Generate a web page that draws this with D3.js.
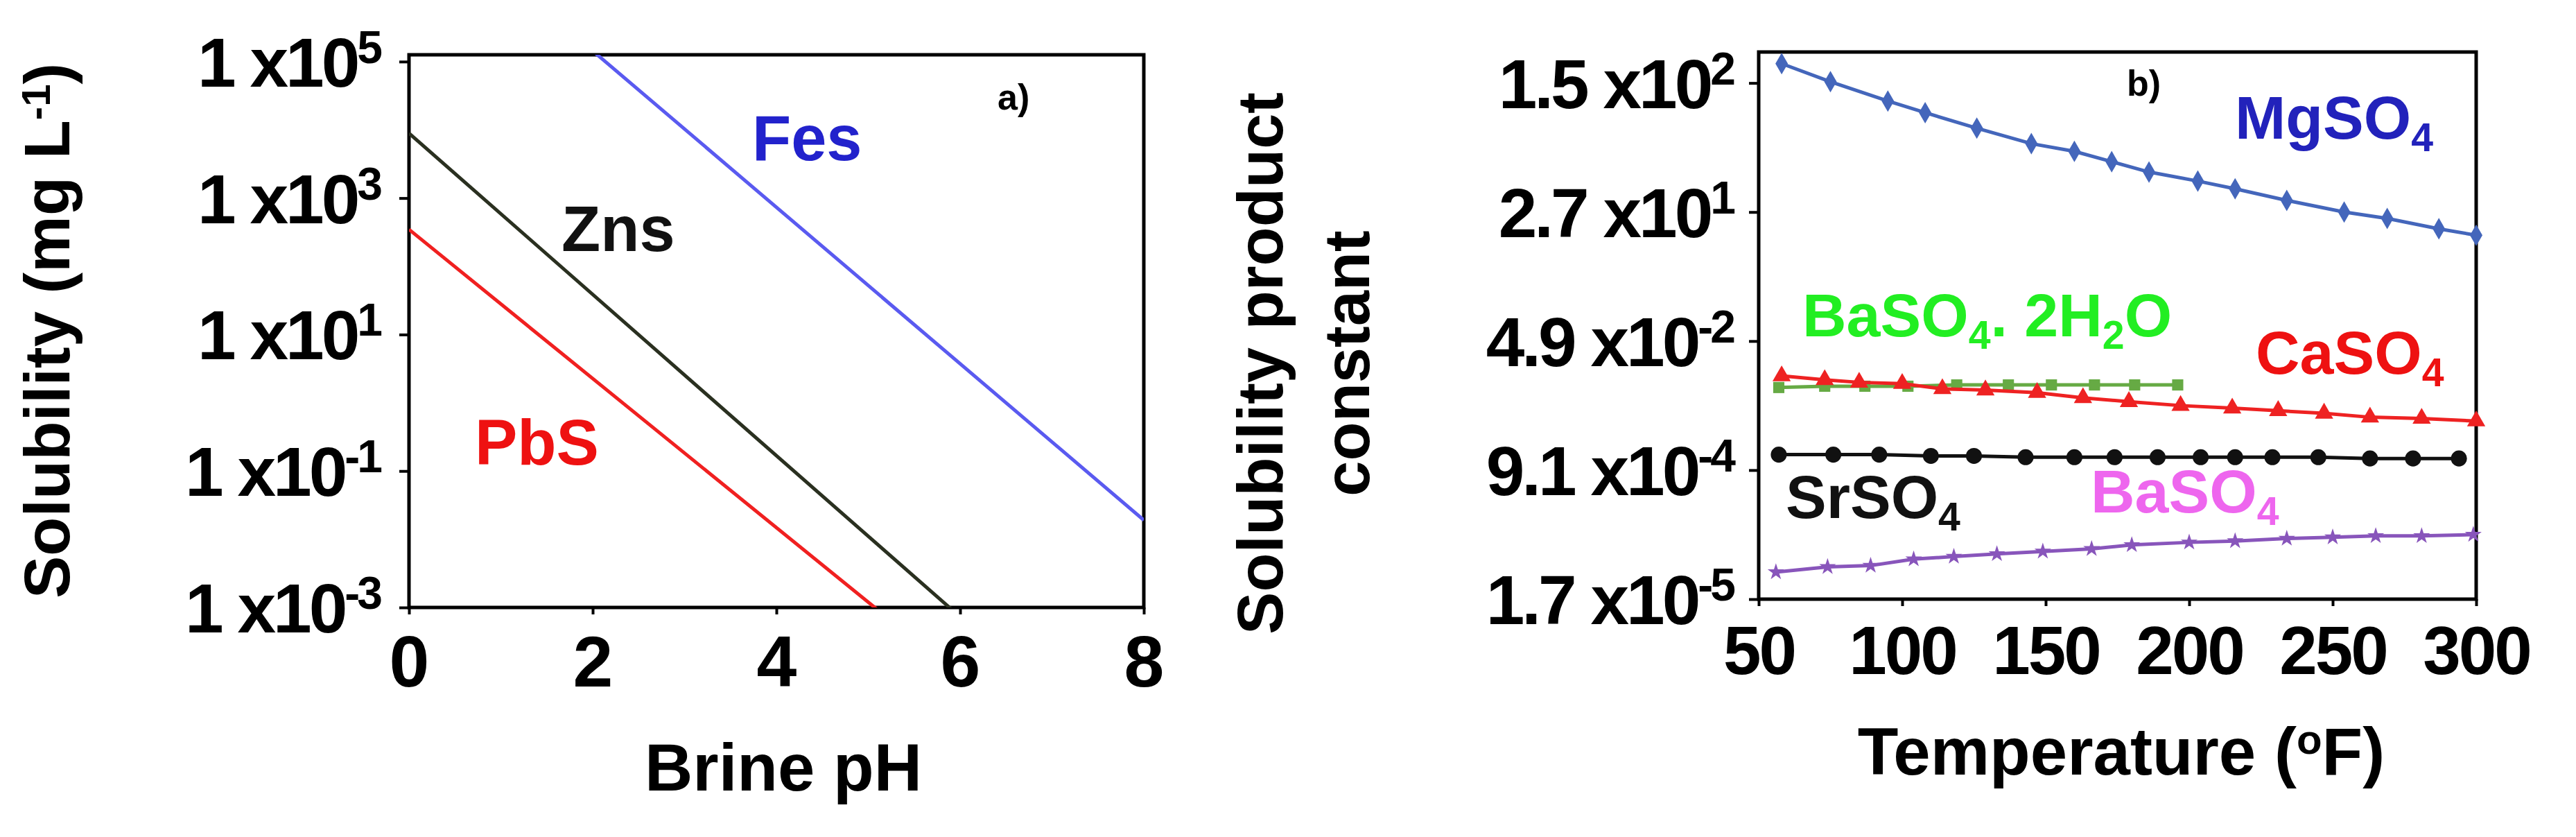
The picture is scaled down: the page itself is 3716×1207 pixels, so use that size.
<!DOCTYPE html>
<html><head><meta charset="utf-8">
<script src="https://cdn.jsdelivr.net/npm/d3@7"></script>
<style>
body{margin:0;background:#fff}
text{font-family:"Liberation Sans Narrow","Liberation Sans",Arial,sans-serif;font-weight:bold}
</style></head><body>
<script>
// panel a: straight lines, log10 solubility at pH endpoints
var phEnds = [0, 8];
var fesLog = [7.45, -1.72];
var znsLog = [3.95, -5.5];
var pbsLog = [2.54, -6.2];
var aTicks = [5, 3, 1, -1, -3];

// panel b: temperature (F) and position on the tick-index axis (0 = 1.7e-5 ... 4 = 1.5e2)
var bTickLabels = [["1.7","-5"],["9.1","-4"],["4.9","-2"],["2.7","1"],["1.5","2"]];
var mgT = [58,75,95,108,126,145,160,173,186,203,216,234,254,269,287,300];
var mgY = [4.15,4.01,3.86,3.77,3.65,3.53,3.47,3.39,3.31,3.24,3.18,3.09,3.0,2.95,2.87,2.82];
var caT = [58,73,85,100,114,129,147,163,179,197,215,231,247,263,281,300];
var caY = [1.73,1.70,1.68,1.67,1.63,1.62,1.60,1.56,1.53,1.50,1.48,1.46,1.44,1.41,1.40,1.38];
var bhT = [57,73,87,102,119,137,152,167,181,196];
var bhY = [1.64,1.65,1.65,1.65,1.66,1.66,1.66,1.66,1.66,1.66];
var srT = [57,76,92,110,125,143,160,174,189,204,216,229,245,263,278,294];
var srY = [1.12,1.12,1.12,1.11,1.11,1.10,1.10,1.10,1.10,1.10,1.10,1.10,1.10,1.09,1.09,1.09];
var baT = [56,74,89,104,118,133,149,166,180,200,216,234,250,265,281,299];
var baY = [0.21,0.25,0.26,0.31,0.33,0.35,0.37,0.39,0.42,0.44,0.45,0.47,0.48,0.49,0.49,0.50];

var svg = d3.select("body").append("svg").attr("width",3716).attr("height",1207);

// ---------- panel a
var xa = d3.scaleLinear().domain([0,8]).range([590,1650]);
var ya = d3.scaleLinear().domain([-3,5.1]).range([876,79]);
var ga = svg.append("g");
ga.append("clipPath").attr("id","ca").append("rect")
  .attr("x",590).attr("y",79).attr("width",1060).attr("height",797);
ga.append("rect").attr("x",590).attr("y",79).attr("width",1060).attr("height",797)
  .attr("fill","none").attr("stroke","#000").attr("stroke-width",5);
var la = d3.line().x(function(d){return xa(d[0]);}).y(function(d){return ya(d[1]);});
[[fesLog,"#5a5af0"],[znsLog,"#2a3020"],[pbsLog,"#f02020"]].forEach(function(s){
  ga.append("path").attr("clip-path","url(#ca)")
    .attr("d", la(phEnds.map(function(p,i){return [p,s[0][i]];})))
    .attr("fill","none").attr("stroke",s[1]).attr("stroke-width",5);
});
ga.append("g").attr("transform","translate(0,876)")
  .call(d3.axisBottom(xa).tickValues([0,2,4,6,8]).tickSize(10).tickPadding(30).tickFormat(d3.format("d")))
  .call(function(g){g.select(".domain").remove();g.selectAll("line").attr("stroke-width",4);
    g.selectAll("text").attr("font-size",104).attr("fill","#000");});
ga.append("g").attr("transform","translate(590,0)")
  .call(d3.axisLeft(ya).tickValues(aTicks).tickSize(14).tickFormat(""))
  .call(function(g){g.select(".domain").remove();g.selectAll("line").attr("stroke-width",4);});
aTicks.forEach(function(t){
  var tx = ga.append("text").attr("x",548).attr("y",ya(t)+36).attr("text-anchor","end")
    .attr("font-size",100).attr("letter-spacing",-4);
  tx.append("tspan").text("1 x10");
  tx.append("tspan").attr("dy",-34).attr("font-size",66).text(t);
});
var ta = ga.append("text").attr("transform","translate(100,477) rotate(-90)").attr("text-anchor","middle")
  .attr("font-size",92).attr("font-family","Liberation Sans");
ta.append("tspan").text("Solubility (mg  L");
ta.append("tspan").attr("dy",-28).attr("font-size",58).text("-1");
ta.append("tspan").attr("dy",28).text(")");
ga.append("text").attr("x",1130).attr("y",1140).attr("text-anchor","middle").attr("font-size",96).text("Brine pH");
ga.append("text").attr("x",1439).attr("y",158).attr("font-size",52).text("a)");
ga.append("text").attr("x",1085).attr("y",231).attr("font-size",92).attr("fill","#2222cc").text("Fes");
ga.append("text").attr("x",810).attr("y",362).attr("font-size",92).attr("fill","#111").text("Zns");
ga.append("text").attr("x",685).attr("y",670).attr("font-size",92).attr("fill","#ee1111").text("PbS");

// ---------- panel b
var xb = d3.scaleLinear().domain([50,300]).range([2537,3572]);
var yb = d3.scaleLinear().domain([0,4.24]).range([864,75]);
var gb = svg.append("g");
gb.append("rect").attr("x",2537).attr("y",75).attr("width",1035).attr("height",789)
  .attr("fill","none").attr("stroke","#000").attr("stroke-width",5);
gb.append("g").attr("transform","translate(0,864)")
  .call(d3.axisBottom(xb).tickValues([50,100,150,200,250,300]).tickSize(10).tickPadding(28))
  .call(function(g){g.select(".domain").remove();g.selectAll("line").attr("stroke-width",4);
    g.selectAll("text").attr("font-size",98).attr("letter-spacing",-3).attr("fill","#000");});
gb.append("g").attr("transform","translate(2537,0)")
  .call(d3.axisLeft(yb).tickValues([0,1,2,3,4]).tickSize(14).tickFormat(""))
  .call(function(g){g.select(".domain").remove();g.selectAll("line").attr("stroke-width",4);});
bTickLabels.forEach(function(t,i){
  var tx = gb.append("text").attr("x",2500).attr("y",yb(i)+36).attr("text-anchor","end")
    .attr("font-size",100).attr("letter-spacing",-4);
  tx.append("tspan").text(t[0]+" x10");
  tx.append("tspan").attr("dy",-34).attr("font-size",66).text(t[1]);
});
var lb = d3.line().x(function(d){return xb(d[0]);}).y(function(d){return yb(d[1]);});
function series(T,Y,col,shape,size){
  var pts = T.map(function(t,i){return [t,Y[i]];});
  gb.append("path").attr("d",lb(pts)).attr("fill","none").attr("stroke",col).attr("stroke-width",5);
  gb.selectAll(null).data(pts).enter().append("path")
    .attr("transform",function(d){return "translate("+xb(d[0])+","+yb(d[1])+")";})
    .attr("d",d3.symbol().type(shape).size(size)).attr("fill",col);
}
series(mgT,mgY,"#4466bb",d3.symbolDiamond,280);
series(bhT,bhY,"#66aa44",d3.symbolSquare,260);
series(caT,caY,"#ee2222",d3.symbolTriangle,300);
series(srT,srY,"#111",d3.symbolCircle,420);
series(baT,baY,"#8855bb",d3.symbolStar,180);

function chem(x,y,parts,col,fs){
  var t = gb.append("text").attr("x",x).attr("y",y).attr("font-size",fs).attr("fill",col);
  parts.forEach(function(p){
    if(p[1]) { t.append("tspan").attr("dy",18).attr("font-size",fs*0.65).text(p[0]); }
    else { t.append("tspan").attr("dy",p[2]?-18:0).attr("font-size",fs).text(p[0]); }
  });
}
chem(3224,200,[["MgSO"],["4",1]],"#2222bb",88);
chem(2600,485,[["BaSO"],["4",1],[". 2H",0,1],["2",1],["O",0,1]],"#22ee22",88);
chem(3254,539,[["CaSO"],["4",1]],"#ee1111",88);
chem(2576,747,[["SrSO"],["4",1]],"#111",88);
chem(3016,739,[["BaSO"],["4",1]],"#ee66ee",88);
gb.append("text").attr("x",3068).attr("y",138).attr("font-size",52).text("b)");
gb.append("text").attr("transform","translate(1850,524) rotate(-90)").attr("text-anchor","middle")
  .attr("font-size",92).attr("font-family","Liberation Sans").text("Solubility product");
gb.append("text").attr("transform","translate(1975,524) rotate(-90)").attr("text-anchor","middle")
  .attr("font-size",92).attr("font-family","Liberation Sans").text("constant");
var tt = gb.append("text").attr("x",3060).attr("y",1117).attr("text-anchor","middle").attr("font-size",96);
tt.append("tspan").text("Temperature (");
tt.append("tspan").attr("dy",-30).attr("font-size",60).text("o");
tt.append("tspan").attr("dy",30).text("F)");
</script>
</body></html>
